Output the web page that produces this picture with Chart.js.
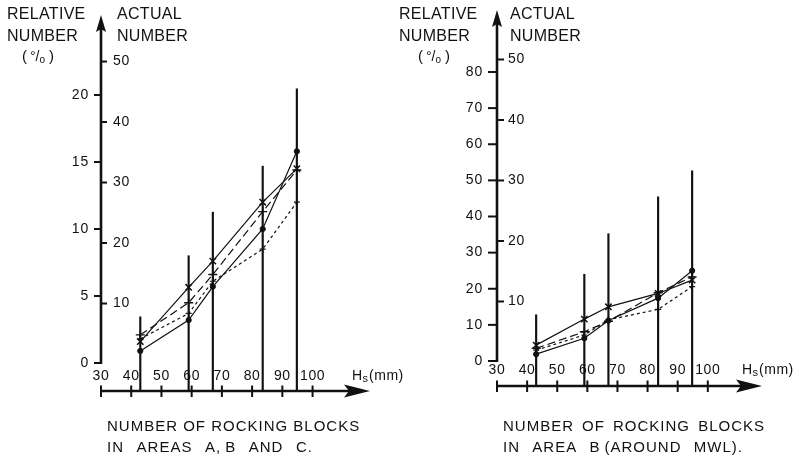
<!DOCTYPE html>
<html><head><meta charset="utf-8">
<script src="https://cdn.jsdelivr.net/npm/chart.js@4.4.0/dist/chart.umd.min.js"></script>
<style>
html,body{margin:0;padding:0;background:#fff;}
#wrap{position:relative;width:802px;height:460px;background:#fff;}
canvas{position:absolute;left:0;top:0;}
</style></head><body>
<div id="wrap"><canvas id="c1" width="802" height="460"></canvas><canvas id="c2" width="802" height="460"></canvas></div>
<script>
// ---- data ----
const hsValues = [43, 59, 67, 83.5, 94.8];          // Hs (mm) of the test runs
const xTickLabels = [30, 40, 50, 60, 70, 80, 90, 100];

// left panel: areas A, B and C (relative number %)
const leftCross = [1.6, 5.65, 7.6, 12.0, 14.5];
const leftPlus  = [2.1, 4.5, 6.6, 11.3, 14.4];
const leftDot   = [0.9, 3.2, 5.7, 10.0, 15.8];
const leftSmall = [1.8, 3.7, 6.1, 8.5, 12.0];
const leftActual = [7.8, 17.9, 25.1, 32.7, 45.5];   // actual number
const leftRelTicks = [0, 5, 10, 15, 20];
const leftActTicks = [10, 20, 30, 40, 50];

// right panel: area B (around MWL)
const rightCross = [4.4, 11.6, 15.0, 18.7, 22.4];
const rightPlus  = [3.5, 8.1, 11.0, 18.9, 23.3];
const rightDot   = [1.9, 6.3, 11.2, 17.4, 25.0];
const rightSmall = [3.0, 7.2, 11.4, 14.3, 20.6];
const rightActual = [7.8, 14.5, 21.2, 27.3, 31.6];
const rightRelTicks = [0, 10, 20, 30, 40, 50, 60, 70, 80];
const rightActTicks = [10, 20, 30, 40, 50];

const INK = '#111';
const FONT = '"Liberation Sans", Arial, sans-serif';

function txt(ctx, s, x, y, size, align, spacing) {
  ctx.font = size + 'px ' + FONT;
  ctx.textAlign = align || 'left';
  ctx.textBaseline = 'middle';
  ctx.letterSpacing = (spacing || 0) + 'px';
  ctx.wordSpacing = '0px';
  ctx.fillText(s, x, y);
}

function fitTxt(ctx, s, x, y, size, width) {
  ctx.font = size + 'px ' + FONT;
  ctx.textAlign = 'left';
  ctx.textBaseline = 'middle';
  ctx.letterSpacing = '1px';
  ctx.wordSpacing = '0px';
  const w = ctx.measureText(s).width;
  const n = s.split(' ').length - 1;
  ctx.wordSpacing = Math.max(0, (width - w) / n) + 'px';
  ctx.fillText(s, x, y);
  ctx.wordSpacing = '0px';
}

const axesPlugin = {
  id: 'axesPlugin',
  afterDraw(chart, args, o) {
    const ctx = chart.ctx;
    const xs = chart.scales.x, rs = chart.scales.rel, as = chart.scales.act;
    const ca = chart.chartArea;
    const ax = xs.getPixelForValue(xTickLabels[0]);
    ctx.save();
    ctx.strokeStyle = INK; ctx.fillStyle = INK; ctx.lineCap = 'butt';
    // vertical axis
    const y0 = rs.getPixelForValue(0);
    ctx.lineWidth = 2.6;
    ctx.beginPath(); ctx.moveTo(ax, y0 + 1); ctx.lineTo(ax, ca.top + 12); ctx.stroke();
    ctx.beginPath(); ctx.moveTo(ax, ca.top); ctx.lineTo(ax - 5, ca.top + 17); ctx.lineTo(ax, ca.top + 14); ctx.lineTo(ax + 5, ca.top + 17); ctx.closePath(); ctx.fill();
    // relative ticks (left side)
    ctx.lineWidth = 2;
    o.relTicks.forEach(v => {
      const y = rs.getPixelForValue(v);
      ctx.beginPath(); ctx.moveTo(ax - o.relTickLen, y); ctx.lineTo(ax, y); ctx.stroke();
      txt(ctx, String(v), ax - o.relLabelGap, y, 14, 'right', 0.8);
    });
    // actual ticks (right side)
    o.actTicks.forEach(v => {
      const y = as.getPixelForValue(v);
      ctx.beginPath(); ctx.moveTo(ax, y); ctx.lineTo(ax + o.actTickLen, y); ctx.stroke();
      txt(ctx, String(v), ax + o.actLabelGap, y, 14, 'left', 0.8);
    });
    // horizontal arrow axis
    const yb = ca.bottom;
    ctx.lineWidth = 2.6;
    ctx.beginPath(); ctx.moveTo(ax, yb); ctx.lineTo(ca.right - 20, yb); ctx.stroke();
    ctx.beginPath(); ctx.moveTo(ca.right, yb); ctx.lineTo(ca.right - 26, yb - 6.5); ctx.lineTo(ca.right - 21, yb); ctx.lineTo(ca.right - 26, yb + 6.5); ctx.closePath(); ctx.fill();
    ctx.lineWidth = 2;
    xTickLabels.forEach(v => {
      const x = xs.getPixelForValue(v);
      ctx.beginPath(); ctx.moveTo(x, yb - 5.5); ctx.lineTo(x, yb + 6); ctx.stroke();
      txt(ctx, String(v), x, yb - o.xLabelOffset, 14, 'center', 0.6);
    });
    // Hs(mm)
    const hy = yb - o.xLabelOffset;
    txt(ctx, 'H', o.hsX, hy, 14, 'left', 0);
    const hw = ctx.measureText('H').width;
    txt(ctx, 's', o.hsX + hw + 0.5, hy + 3, 11, 'left', 0);
    txt(ctx, '(mm)', o.hsX + hw + 7, hy, 14, 'left', 0.5);
    // titles
    txt(ctx, 'RELATIVE', o.relTitleX, 15, 16, 'left', 0.3);
    txt(ctx, 'NUMBER', o.relTitleX, 37, 16, 'left', 0.3);
    const px = o.pctX;
    txt(ctx, '(', px, 57, 15, 'left', 0);
    txt(ctx, '°/', px + 8, 57, 14, 'left', 0);
    txt(ctx, 'o', px + 8 + ctx.measureText('°/').width, 60, 10, 'left', 0);
    txt(ctx, ')', px + 27, 57, 15, 'left', 0);
    txt(ctx, 'ACTUAL', ax + o.actTitleDx, 15, 16, 'left', 0.3);
    txt(ctx, 'NUMBER', ax + o.actTitleDx, 37, 16, 'left', 0.3);
    // captions
    fitTxt(ctx, o.caption1, o.capX, 427, 15, o.cap1W);
    fitTxt(ctx, o.caption2, o.capX, 448, 15, o.cap2W);
    ctx.restore();
  }
};

function lineDs(vals, style, radius, dash, pbw) {
  return {
    type: 'line', yAxisID: 'rel',
    data: hsValues.map((h, i) => ({ x: h, y: vals[i] })),
    borderColor: INK, borderWidth: 1.2, borderDash: dash, tension: 0, fill: false,
    pointStyle: style, pointRadius: radius, pointBorderColor: INK, pointBackgroundColor: INK,
    pointBorderWidth: pbw, order: 1
  };
}

function makePanel(id, p) {
  return new Chart(document.getElementById(id), {
    type: 'line',
    data: {
      datasets: [
        { type: 'bar', yAxisID: 'act', order: 2,
          data: hsValues.map((h, i) => ({ x: h, y: [p.act.min, p.actual[i]] })),
          backgroundColor: INK, borderWidth: 0, barThickness: 1.5 },
        lineDs(p.cross, 'crossRot', 4.5, [], 1.5),
        lineDs(p.plus, 'cross', 4.5, [8, 4], 1.4),
        lineDs(p.dot, 'circle', 2.6, [], 1),
        lineDs(p.small, 'cross', 3, [3, 3], 1.2)
      ]
    },
    options: {
      responsive: false, animation: false, devicePixelRatio: 1,
      layout: { padding: p.padding },
      plugins: { legend: { display: false }, tooltip: { enabled: false }, axesPlugin: p.axes },
      scales: {
        x: { type: 'linear', display: false, min: 30, max: p.xMax, offset: false },
        rel: { type: 'linear', display: false, position: 'left', min: p.rel.min, max: p.rel.max },
        act: { type: 'linear', display: false, position: 'right', min: p.act.min, max: p.act.max }
      }
    },
    plugins: [axesPlugin]
  });
}

makePanel('c1', {
  padding: { left: 101, right: 432, top: 15, bottom: 69 },
  xMax: 119,
  rel: { min: -2.09, max: 25.97 }, act: { min: -4.46, max: 57.69 },
  cross: leftCross, plus: leftPlus, dot: leftDot, small: leftSmall, actual: leftActual,
  axes: {
    relTicks: leftRelTicks, actTicks: leftActTicks,
    relTickLen: 7, relLabelGap: 12, actTickLen: 6, actLabelGap: 12,
    xLabelOffset: 15, hsX: 352,
    relTitleX: 7, pctX: 22, actTitleDx: 16,
    capX: 107,
    caption1: 'NUMBER OF ROCKING BLOCKS', cap1W: 250,
    caption2: 'IN AREAS A,\u2009B AND C.', cap2W: 206
  }
});

makePanel('c2', {
  padding: { left: 497, right: 40, top: 10, bottom: 74 },
  xMax: 118,
  rel: { min: -6.92, max: 97.16 }, act: { min: -3.97, max: 58.18 },
  cross: rightCross, plus: rightPlus, dot: rightDot, small: rightSmall, actual: rightActual,
  axes: {
    relTicks: rightRelTicks, actTicks: rightActTicks,
    relTickLen: 9, relLabelGap: 14, actTickLen: 7, actLabelGap: 11,
    xLabelOffset: 16, hsX: 742,
    relTitleX: 399, pctX: 418, actTitleDx: 13,
    capX: 503,
    caption1: 'NUMBER OF ROCKING BLOCKS', cap1W: 262,
    caption2: 'IN AREA B\u2009(AROUND MWL).', cap2W: 240
  }
});
</script>
</body></html>
